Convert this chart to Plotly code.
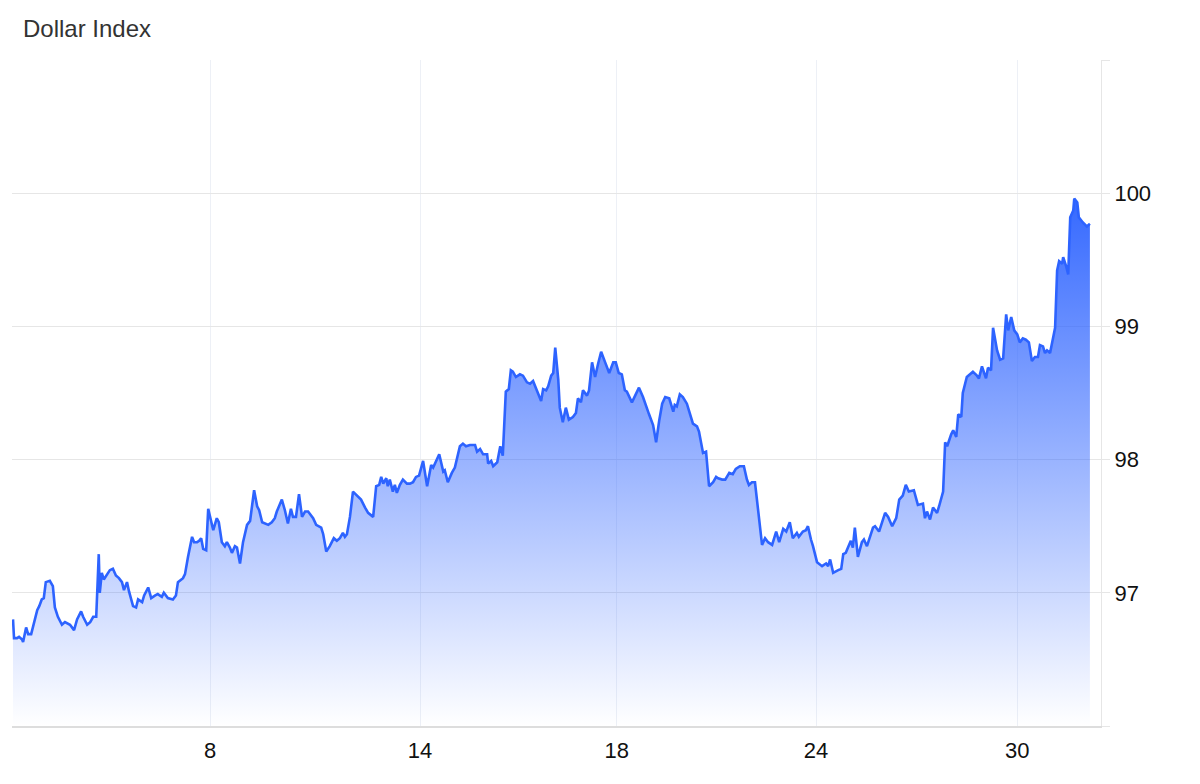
import plotly.graph_objects as go

# Time in trading days since the start of the window, and Dollar Index values
t_days = [
    0.02, 0.04, 0.10, 0.14, 0.20, 0.22, 0.28, 0.32, 0.38, 0.42, 0.50, 0.54, 0.59, 0.63, 0.67, 0.75, 0.81, 0.85, 0.91, 0.99,
    1.05, 1.15, 1.23, 1.29, 1.37, 1.41, 1.49, 1.55, 1.61, 1.67, 1.72, 1.74, 1.78, 1.82, 1.88, 1.94, 2.00, 2.06, 2.12, 2.18,
    2.22, 2.28, 2.32, 2.40, 2.46, 2.50, 2.58, 2.62, 2.70, 2.76, 2.84, 2.89, 2.97, 3.01, 3.09, 3.19, 3.25, 3.29, 3.39, 3.43,
    3.49, 3.57, 3.61, 3.67, 3.71, 3.75, 3.79, 3.85, 3.89, 3.95, 3.99, 4.06, 4.10, 4.16, 4.22, 4.26, 4.32, 4.36, 4.42, 4.46,
    4.52, 4.58, 4.66, 4.72, 4.80, 4.86, 4.90, 4.96, 5.02, 5.08, 5.15, 5.21, 5.25, 5.35, 5.41, 5.47, 5.53, 5.57, 5.63, 5.69,
    5.75, 5.81, 5.87, 5.97, 6.03, 6.13, 6.17, 6.23, 6.30, 6.38, 6.44, 6.50, 6.56, 6.60, 6.64, 6.70, 6.76, 6.84, 6.92, 7.00,
    7.06, 7.16, 7.22, 7.28, 7.32, 7.36, 7.42, 7.45, 7.49, 7.55, 7.59, 7.63, 7.69, 7.75, 7.83, 7.89, 7.95, 8.01, 8.07, 8.15,
    8.23, 8.31, 8.35, 8.47, 8.55, 8.58, 8.64, 8.72, 8.78, 8.88, 8.94, 9.00, 9.08, 9.18, 9.22, 9.28, 9.34, 9.42, 9.44, 9.50,
    9.54, 9.62, 9.68, 9.73, 9.79, 9.85, 9.89, 9.93, 9.99, 10.07, 10.13, 10.21, 10.27, 10.33, 10.39, 10.49, 10.53, 10.59, 10.63, 10.69,
    10.73, 10.77, 10.83, 10.86, 10.92, 10.98, 11.04, 11.12, 11.18, 11.22, 11.28, 11.32, 11.40, 11.44, 11.50, 11.56, 11.62, 11.68, 11.76, 11.84,
    11.92, 11.97, 12.03, 12.09, 12.15, 12.19, 12.29, 12.37, 12.43, 12.51, 12.57, 12.63, 12.71, 12.77, 12.83, 12.89, 12.95, 13.03, 13.11, 13.14,
    13.18, 13.24, 13.30, 13.38, 13.42, 13.50, 13.58, 13.62, 13.70, 13.76, 13.82, 13.90, 13.96, 14.00, 14.08, 14.14, 14.22, 14.29, 14.35, 14.43,
    14.51, 14.57, 14.61, 14.67, 14.73, 14.79, 14.87, 14.93, 14.99, 15.07, 15.15, 15.21, 15.29, 15.35, 15.42, 15.48, 15.56, 15.60, 15.68, 15.74,
    15.78, 15.84, 15.88, 15.96, 16.06, 16.14, 16.18, 16.22, 16.28, 16.38, 16.44, 16.48, 16.53, 16.63, 16.67, 16.71, 16.77, 16.85, 16.89, 16.95,
    17.07, 17.11, 17.19, 17.31, 17.37, 17.45, 17.53, 17.59, 17.66, 17.72, 17.78, 17.88, 17.96, 18.06, 18.10, 18.14, 18.20, 18.26, 18.34, 18.38,
    18.46, 18.50, 18.54, 18.62, 18.66, 18.72, 18.76, 18.82, 18.85, 18.93, 18.99, 19.05, 19.13, 19.17, 19.23, 19.27, 19.31, 19.35, 19.41, 19.45,
    19.53, 19.59, 19.65, 19.71, 19.75, 19.81, 19.87, 19.93, 19.98, 20.04, 20.10, 20.16, 20.22, 20.28, 20.34, 20.38, 20.44, 20.48, 20.52, 20.58,
    20.64, 20.68, 20.72, 20.76, 20.82, 20.84, 20.90, 20.94, 20.98, 21.04, 21.06, 21.12, 21.15, 21.23, 21.31, 21.37,
]

dollar_index = [
    96.80, 96.66, 96.66, 96.67, 96.65, 96.63, 96.74, 96.69, 96.69, 96.75, 96.87, 96.90, 96.95, 96.96, 97.08, 97.09, 97.05, 96.89, 96.82, 96.76,
    96.78, 96.76, 96.72, 96.80, 96.86, 96.82, 96.76, 96.78, 96.82, 96.82, 97.29, 97.00, 97.15, 97.10, 97.14, 97.17, 97.18, 97.13, 97.11, 97.08,
    97.02, 97.08, 97.01, 96.90, 96.89, 96.95, 96.93, 96.98, 97.04, 96.96, 96.98, 96.99, 96.97, 97.00, 96.96, 96.95, 96.98, 97.08, 97.11, 97.14,
    97.27, 97.42, 97.38, 97.38, 97.39, 97.41, 97.33, 97.32, 97.63, 97.53, 97.47, 97.56, 97.53, 97.38, 97.35, 97.38, 97.34, 97.30, 97.35, 97.34,
    97.22, 97.38, 97.51, 97.54, 97.77, 97.65, 97.62, 97.53, 97.52, 97.51, 97.53, 97.56, 97.61, 97.70, 97.62, 97.52, 97.63, 97.57, 97.57, 97.74,
    97.57, 97.61, 97.61, 97.56, 97.51, 97.49, 97.44, 97.31, 97.35, 97.41, 97.39, 97.41, 97.45, 97.42, 97.44, 97.57, 97.76, 97.73, 97.70, 97.64,
    97.60, 97.57, 97.80, 97.81, 97.87, 97.82, 97.86, 97.80, 97.85, 97.76, 97.81, 97.75, 97.81, 97.85, 97.82, 97.82, 97.83, 97.87, 97.88, 97.99,
    97.80, 97.96, 97.94, 98.04, 97.91, 97.92, 97.83, 97.90, 97.94, 98.10, 98.12, 98.10, 98.11, 98.11, 98.06, 98.08, 98.04, 98.04, 97.97, 97.99,
    97.95, 97.98, 98.10, 98.03, 98.51, 98.53, 98.67, 98.66, 98.62, 98.64, 98.63, 98.58, 98.57, 98.59, 98.53, 98.44, 98.53, 98.52, 98.55, 98.63,
    98.65, 98.84, 98.60, 98.39, 98.28, 98.39, 98.30, 98.32, 98.35, 98.46, 98.43, 98.52, 98.48, 98.52, 98.73, 98.62, 98.72, 98.81, 98.73, 98.65,
    98.73, 98.73, 98.65, 98.64, 98.52, 98.51, 98.43, 98.49, 98.54, 98.47, 98.40, 98.34, 98.26, 98.13, 98.29, 98.42, 98.47, 98.46, 98.36, 98.41,
    98.40, 98.49, 98.47, 98.42, 98.37, 98.27, 98.25, 98.21, 98.05, 98.06, 97.80, 97.83, 97.87, 97.86, 97.85, 97.85, 97.90, 97.89, 97.93, 97.95,
    97.95, 97.85, 97.81, 97.83, 97.83, 97.62, 97.36, 97.41, 97.38, 97.36, 97.46, 97.38, 97.48, 97.46, 97.53, 97.41, 97.45, 97.42, 97.46, 97.47,
    97.50, 97.40, 97.35, 97.23, 97.20, 97.22, 97.20, 97.25, 97.15, 97.17, 97.18, 97.29, 97.30, 97.39, 97.34, 97.49, 97.27, 97.38, 97.40, 97.35,
    97.49, 97.50, 97.46, 97.60, 97.57, 97.50, 97.56, 97.70, 97.73, 97.81, 97.76, 97.77, 97.66, 97.67, 97.56, 97.61, 97.55, 97.64, 97.60, 97.65,
    97.76, 98.13, 98.10, 98.19, 98.22, 98.17, 98.34, 98.32, 98.50, 98.62, 98.64, 98.66, 98.63, 98.61, 98.70, 98.66, 98.61, 98.69, 98.67, 98.99,
    98.82, 98.75, 98.76, 99.09, 98.97, 99.07, 98.97, 98.94, 98.88, 98.91, 98.90, 98.88, 98.74, 98.77, 98.77, 98.86, 98.85, 98.80, 98.82, 98.80,
    98.92, 98.99, 99.42, 99.49, 99.47, 99.52, 99.45, 99.39, 99.82, 99.87, 99.96, 99.93, 99.82, 99.78, 99.75, 99.77,
]

# Axis ticks
x_tick_days = [3.93, 8.09, 11.99, 15.94, 19.93]
x_tick_labels = ["8", "14", "18", "24", "30"]
y_tick_values = [96, 97, 98, 99, 100, 101]
y_tick_labels = ["", "97", "98", "99", "100", ""]

LINE = "#2d63ff"
W, H = 1192, 776  # page body has an 8px margin

fig = go.Figure()
fig.add_trace(go.Scatter(
    x=t_days,
    y=dollar_index,
    mode="lines",
    line=dict(color=LINE, width=2.6),
    fill="tozeroy",
    fillgradient=dict(
        type="vertical",
        start=96,
        stop=100,
        colorscale=[[0, "rgba(45,99,255,0.0)"], [1, "rgba(45,99,255,0.97)"]],
    ),
    hoverinfo="x+y",
    showlegend=False,
))

fig.update_layout(
    width=W,
    height=H,
    paper_bgcolor="white",
    plot_bgcolor="white",
    margin=dict(l=4, r=99, t=52, b=58),
    font=dict(family="Liberation Sans, Arial, Helvetica, sans-serif", color="#111"),
    title=dict(
        text="Dollar Index",
        x=15 / W,
        xanchor="left",
        y=1 - 21 / H,
        yanchor="middle",
        font=dict(size=24, color="#333"),
    ),
)

fig.update_xaxes(
    range=[0, 21.59],
    tickvals=x_tick_days,
    ticktext=x_tick_labels,
    showgrid=True,
    gridcolor="#edf0f6",
    gridwidth=1,
    showline=True,
    linecolor="#dddddd",
    linewidth=2,
    ticks="outside",
    ticklen=4,
    tickcolor="rgba(0,0,0,0)",
    tickfont=dict(size=22, color="#111"),
    zeroline=False,
    fixedrange=True,
)

fig.update_yaxes(
    range=[96, 101],
    side="right",
    tickvals=y_tick_values,
    ticktext=y_tick_labels,
    showgrid=True,
    gridcolor="#e6e6e6",
    gridwidth=1,
    showline=True,
    linecolor="#e6e6e6",
    linewidth=1,
    ticks="outside",
    ticklen=8,
    tickcolor="#e6e6e6",
    tickfont=dict(size=22, color="#111"),
    zeroline=False,
    fixedrange=True,
)

fig.write_html("out.html")
